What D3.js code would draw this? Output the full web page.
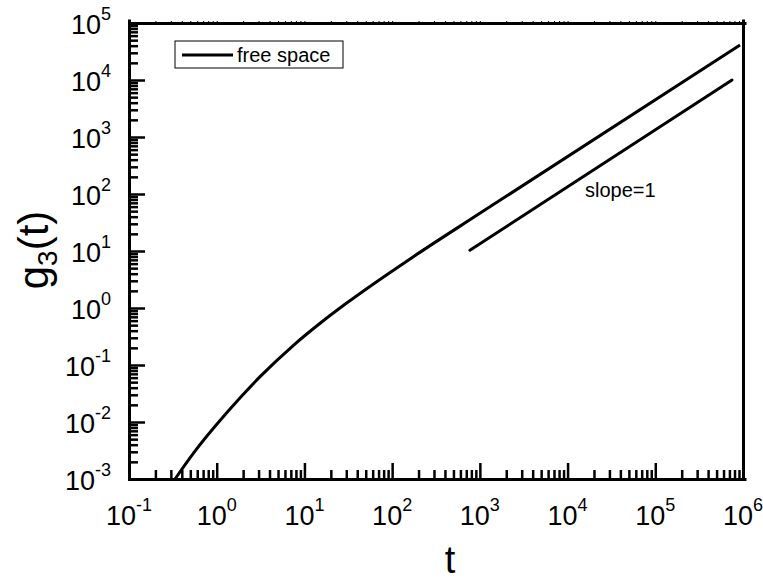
<!DOCTYPE html>
<html>
<head>
<meta charset="utf-8">
<script src="https://cdn.jsdelivr.net/npm/d3@7"></script>
<style>
  body { margin: 0; background: #fff; }
  text { font-family: "Liberation Sans", Arial, sans-serif; fill: #000; }
  .domain { stroke: #000; stroke-width: 3; }
  .tick line { stroke: #000; stroke-width: 2.5; }
</style>
</head>
<body>
<div id="chart"></div>
<script>
// data
var tValues = [0.335, 0.541, 1.3, 3.12, 7.5, 15.1, 30.3, 174.5, 1000, 9.25e5];
var gValues = [0.001, 0.00282, 0.0145, 0.0624, 0.222, 0.54, 1.22, 7.94, 45.8, 4.1e4];

var slopeT = [770, 7.5e5];
var slopeG = [10.3, 1.0e4];

var xMajorTicks = [0.1, 1, 10, 100, 1e3, 1e4, 1e5, 1e6];
var xTickExponents = ["-1", "0", "1", "2", "3", "4", "5", "6"];
var yMajorTicks = [1e-3, 1e-2, 1e-1, 1, 10, 100, 1e3, 1e4, 1e5];
var yTickExponents = ["-3", "-2", "-1", "0", "1", "2", "3", "4", "5"];

var legendLabel = "free space";
var slopeLabel = "slope=1";

var svgWidth = 763;
var svgHeight = 581;

var margin = {
  top: 23,
  right: 20,
  bottom: 102,
  left: 129
};

var width = svgWidth - margin.left - margin.right;
var height = svgHeight - margin.top - margin.bottom;

var svg = d3.select("#chart")
  .append("svg")
  .attr("width", svgWidth)
  .attr("height", svgHeight);

var chartGroup = svg.append("g")
  .attr("transform", `translate(${margin.left}, ${margin.top})`);

// scales
var xScale = d3.scaleLog()
  .domain([0.1, 1e6])
  .range([0, width]);

var yScale = d3.scaleLog()
  .domain([1e-3, 1e5])
  .range([height, 0]);

// minor ticks 2..9 in each decade
function minorTicks(majors) {
  var out = [];
  majors.slice(0, -1).forEach(function(m) {
    for (var k = 2; k <= 9; k++) out.push(m * k);
  });
  return out;
}
var xMinor = minorTicks(xMajorTicks);
var yMinor = minorTicks(yMajorTicks);

// bottom axis: inward ticks
chartGroup.append("g")
  .attr("transform", `translate(0, ${height})`)
  .call(d3.axisBottom(xScale).tickValues(xMinor).tickSize(-9).tickFormat(""));
chartGroup.append("g")
  .attr("transform", `translate(0, ${height})`)
  .call(d3.axisBottom(xScale).tickValues(xMajorTicks).tickSize(-16).tickFormat(""));

// left axis
chartGroup.append("g")
  .call(d3.axisLeft(yScale).tickValues(yMinor).tickSize(-9).tickFormat(""));
chartGroup.append("g")
  .call(d3.axisLeft(yScale).tickValues(yMajorTicks).tickSize(-16).tickFormat(""));

// top and right axes with tiny ticks
var topAxis = chartGroup.append("g")
  .call(d3.axisTop(xScale).tickValues(xMajorTicks.concat(xMinor)).tickSize(2).tickFormat(""));
var rightAxis = chartGroup.append("g")
  .attr("transform", `translate(${width}, 0)`)
  .call(d3.axisRight(yScale).tickValues(yMajorTicks.concat(yMinor)).tickSize(2).tickFormat(""));
topAxis.selectAll(".tick line").style("stroke-width", 1);
rightAxis.selectAll(".tick line").style("stroke-width", 1);
chartGroup.selectAll(".domain").attr("stroke-linecap", "square");

// tick labels with superscripts
var xLabels = chartGroup.append("g").selectAll("text")
  .data(xMajorTicks)
  .enter()
  .append("text")
  .attr("x", d => xScale(d))
  .attr("y", height + 46)
  .attr("text-anchor", "middle")
  .attr("font-size", 27);
xLabels.append("tspan").text("10");
xLabels.append("tspan")
  .attr("dy", -14)
  .attr("font-size", 18)
  .text((d, i) => xTickExponents[i]);

var yLabels = chartGroup.append("g").selectAll("text")
  .data(yMajorTicks)
  .enter()
  .append("text")
  .attr("x", -18)
  .attr("y", d => yScale(d) + 11)
  .attr("text-anchor", "end")
  .attr("font-size", 27);
yLabels.append("tspan").text("10");
yLabels.append("tspan")
  .attr("dy", -14)
  .attr("font-size", 18)
  .text((d, i) => yTickExponents[i]);

// lines
var curveData = tValues.map((t, i) => ({ t: t, g: gValues[i] }));
var slopeData = slopeT.map((t, i) => ({ t: t, g: slopeG[i] }));

var lineGen = d3.line()
  .x(d => xScale(d.t))
  .y(d => yScale(d.g))
  .curve(d3.curveMonotoneX);

chartGroup.append("path")
  .datum(curveData)
  .attr("d", lineGen)
  .attr("fill", "none")
  .attr("stroke", "#000")
  .attr("stroke-width", 3);

chartGroup.append("path")
  .datum(slopeData)
  .attr("d", lineGen)
  .attr("fill", "none")
  .attr("stroke", "#000")
  .attr("stroke-width", 3)
  .attr("stroke-linecap", "round");

chartGroup.append("text")
  .attr("x", 456)
  .attr("y", 174)
  .attr("font-size", 20)
  .text(slopeLabel);

// legend
var legend = chartGroup.append("g")
  .attr("transform", "translate(46, 18)");
legend.append("rect")
  .attr("width", 168)
  .attr("height", 27)
  .attr("fill", "none")
  .attr("stroke", "#000")
  .attr("stroke-width", 1);
legend.append("line")
  .attr("x1", 7)
  .attr("x2", 58)
  .attr("y1", 14)
  .attr("y2", 14)
  .attr("stroke", "#000")
  .attr("stroke-width", 3);
legend.append("text")
  .attr("x", 62)
  .attr("y", 21)
  .attr("font-size", 20)
  .text(legendLabel);

// axes labels
svg.append("text")
  .attr("x", 450)
  .attr("y", 573)
  .attr("text-anchor", "middle")
  .attr("font-size", 38)
  .text("t");

var yTitle = svg.append("text")
  .attr("transform", "translate(48, 250) rotate(-90)")
  .attr("text-anchor", "middle")
  .attr("font-size", 42);
yTitle.append("tspan").text("g");
yTitle.append("tspan").attr("font-size", 28).attr("dy", 9).text("3");
yTitle.append("tspan").attr("dy", -9).text("(t)");
</script>
</body>
</html>
